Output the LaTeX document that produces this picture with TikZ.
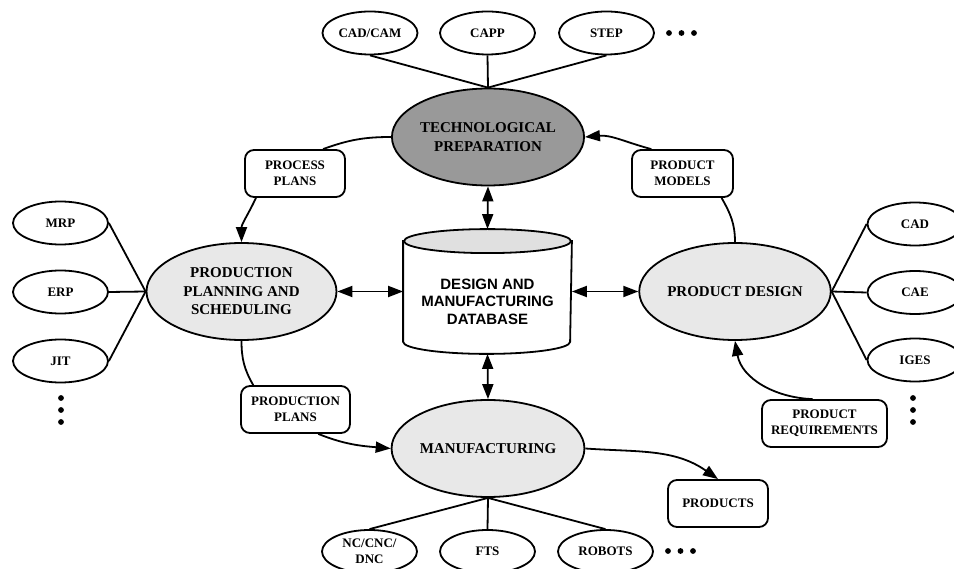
\documentclass[tikz,border=0pt]{standalone}
\usepackage{fontspec}
\setmainfont{Liberation Serif}
\setsansfont{Liberation Sans}
\usetikzlibrary{shapes.geometric,arrows.meta}
\definecolor{techfill}{gray}{0.6}
\definecolor{stagefill}{gray}{0.91}
\definecolor{dbtop}{gray}{0.88}

\begin{document}
\begin{tikzpicture}[x=1pt,y=-1pt,
  line width=1.8pt,
  big/.style={ellipse, draw, fill=stagefill, minimum width=190pt, minimum height=97pt,
    inner sep=0pt, align=center, font=\fontsize{15pt}{18.5pt}\selectfont\bfseries},
  tool/.style={ellipse, draw, fill=white, minimum width=95pt, minimum height=43pt,
    inner sep=0pt, align=center, font=\fontsize{13pt}{16.5pt}\selectfont\bfseries},
  info/.style={rectangle, rounded corners=9pt, draw, fill=white, minimum height=47pt,
    inner sep=0pt, align=center, font=\fontsize{13pt}{16pt}\selectfont\bfseries},
  flow/.style={-{Triangle[length=15pt,width=11pt]}},
  both/.style={{Triangle[length=15pt,width=11pt]}-{Triangle[length=15pt,width=11pt]}}
]
\useasboundingbox (0,0) rectangle (954,569);

% main activities
\node[big, fill=techfill] (tech) at (488,137) {TECHNOLOGICAL\\PREPARATION};
\node[big] (pps) at (241.5,291.5) {PRODUCTION\\PLANNING AND\\SCHEDULING};
\node[big] (pd) at (735,291.5) {PRODUCT DESIGN};
\node[big] (mfg) at (488,448.5) {MANUFACTURING};

% supporting tools and standards
\node[tool] (cadcam) at (370,33) {CAD/CAM};
\node[tool] (capp) at (487.5,33) {CAPP};
\node[tool] (step) at (606.5,33) {STEP};
\node[tool] (mrp) at (60.5,223) {MRP};
\node[tool] (erp) at (60.5,292) {ERP};
\node[tool] (jit) at (60.5,361) {JIT};
\node[tool] (cad) at (915,224) {CAD};
\node[tool] (cae) at (915,292.5) {CAE};
\node[tool] (iges) at (915,360) {IGES};
\node[tool] (nc) at (369.5,551.5) {NC/CNC/\\DNC};
\node[tool] (fts) at (487.5,551.5) {FTS};
\node[tool] (robots) at (605.5,551.5) {ROBOTS};

% information passed between activities
\node[info, minimum width=100pt] (procplans) at (295,173.5) {PROCESS\\PLANS};
\node[info, minimum width=101pt] (prodmodels) at (682.5,173.5) {PRODUCT\\MODELS};
\node[info, minimum width=109pt] (prodplans) at (295.5,409.5) {PRODUCTION\\PLANS};
\node[info, minimum width=125pt] (prodreq) at (824.5,423.5) {PRODUCT\\REQUIREMENTS};
\node[info, minimum width=100pt] (products) at (718,503.5) {PRODUCTS};

% central database drawn as a cylinder
\node[minimum width=167pt, minimum height=123pt, inner sep=0pt] (db) at (487.5,291.5) {};
\draw[fill=white] ([yshift=-12pt]db.north west) -- ([yshift=12pt]db.south west)
  arc[start angle=180, end angle=360, x radius=83.5pt, y radius=12pt]
  -- ([yshift=-12pt]db.north east) -- cycle;
\draw[fill=dbtop] ([yshift=-12pt]db.north) ellipse[x radius=83.5pt, y radius=12pt];
\node[font=\sffamily\bfseries\fontsize{15pt}{17.5pt}\selectfont, align=center, inner sep=0pt]
  (dblabel) at ([yshift=-10pt]db.center) {DESIGN AND\\MANUFACTURING\\DATABASE};

% tool links
\draw (cadcam.south) -- (tech.north);
\draw (capp.south) -- (tech.north);
\draw (step.south) -- (tech.north);
\draw (mrp.east) -- (pps.west);
\draw (erp.east) -- (pps.west);
\draw (jit.east) -- (pps.west);
\draw (cad.west) -- (pd.east);
\draw (cae.west) -- (pd.east);
\draw (iges.west) -- (pd.east);
\draw (mfg.south) -- (nc.north);
\draw (mfg.south) -- (fts.north);
\draw (mfg.south) -- (robots.north);

% information flow
\draw (tech.west) to[out=180, in=20] (procplans.41);
\draw[flow] (procplans.212) to[out=245, in=90] (pps.north);
\draw (pps.south) to[out=270, in=120] (prodplans.150);
\draw[flow] (prodplans.313) to[out=-22, in=175] (mfg.west);
\draw[flow] (mfg.east) to[out=-4, in=145] (products.north);
\draw (pd.north) to[out=90, in=300] (prodmodels.328);
\draw[flow] (prodmodels.142) to[out=165, in=5] (tech.east);
\draw[flow] (prodreq.116) to[out=178, in=280] (pd.south);

% database exchange
\draw[both] (tech.south) -- (db.north);
\draw[both] (db.west) -- (pps.east);
\draw[both] (db.east) -- (pd.west);
\draw[both] (db.south) -- (mfg.north);

% continuation dots
\foreach \x in {669,681.5,694} \fill (\x,33) circle[radius=2.9pt];
\foreach \x in {668,680.5,693} \fill (\x,551) circle[radius=2.9pt];
\foreach \y in {398,410,422} \fill (61,\y) circle[radius=2.9pt];
\foreach \y in {398,410,422} \fill (913,\y) circle[radius=2.9pt];
\end{tikzpicture}
\end{document}
